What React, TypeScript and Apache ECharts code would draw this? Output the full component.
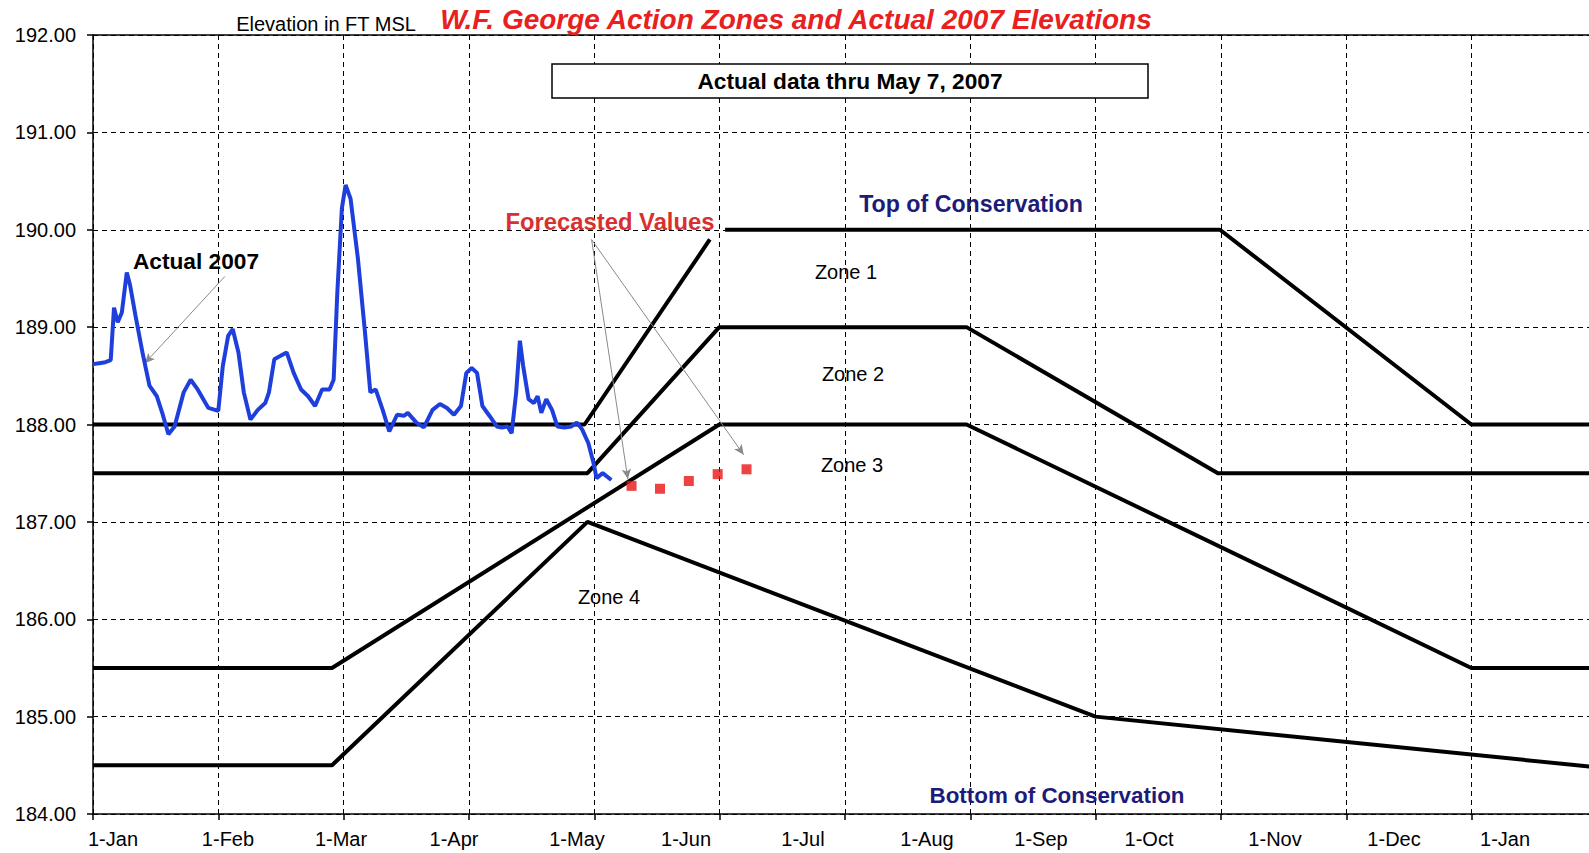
import React, { useEffect, useRef } from 'react';
import * as echarts from 'echarts';

// X values are day-of-year (0 = 1-Jan)
const monthLabels = ['1-Jan', '1-Feb', '1-Mar', '1-Apr', '1-May', '1-Jun', '1-Jul', '1-Aug', '1-Sep', '1-Oct', '1-Nov', '1-Dec', '1-Jan'];
const labelDays = [4.85, 32.76, 60.19, 87.61, 117.46, 143.92, 172.31, 202.4, 230.07, 256.28, 286.86, 315.74, 342.68];

// Zone boundary lines
const topDays = [0, 119.3, 149.7, 151.5, 153.4, 273.5, 334.5, 365];
const topVals = [188, 188, 189.9, null, 190, 190, 188, 188];
const zone12Days = [0, 120, 152, 212, 273, 365];
const zone12Vals = [187.5, 187.5, 189, 189, 187.5, 187.5];
const zone23Days = [0, 58, 152, 212, 334.5, 365];
const zone23Vals = [185.5, 185.5, 188, 188, 185.5, 185.5];
const zone34Days = [0, 58, 120, 243.3, 365];
const zone34Vals = [184.5, 184.5, 187, 185, 184.48];

// Actual 2007 elevations
const actualDays = [0, 1.5, 3, 4.3, 5.1, 6, 7, 8.2, 9, 10.3, 12, 13.7, 15.5, 16.8, 18.3, 19.8, 22, 23.7, 25.4, 28, 30.4, 31.5, 32.8, 33.9, 35.3, 36.6, 38.2, 40, 41.8, 42.7, 44, 45.3, 47, 48.7, 50.5, 52.2, 53.9, 55.6, 57.4, 58.4, 59.3, 60.4, 61.3, 62.5, 64.3, 66, 67.3, 68.6, 70.3, 71.9, 73.8, 75.5, 76.4, 78.5, 80.3, 82.4, 84.2, 85.9, 87.6, 89.3, 90.6, 91.9, 93.2, 94.5, 96.2, 98, 99.2, 100.6, 101.6, 102.7, 103.6, 104.4, 105.7, 107, 107.9, 108.8, 110, 111.4, 112.7, 114.4, 116.1, 117.4, 118.7, 120.2, 121.5, 122.2, 123.7, 125.8];
const actualVals = [188.62, 188.63, 188.64, 188.66, 189.2, 189.05, 189.15, 189.56, 189.43, 189.12, 188.74, 188.4, 188.29, 188.12, 187.9, 187.98, 188.33, 188.46, 188.36, 188.17, 188.14, 188.6, 188.91, 188.98, 188.74, 188.33, 188.05, 188.15, 188.22, 188.33, 188.67, 188.7, 188.74, 188.53, 188.36, 188.29, 188.19, 188.36, 188.36, 188.46, 189.36, 190.22, 190.46, 190.32, 189.7, 188.95, 188.33, 188.36, 188.15, 187.93, 188.1, 188.09, 188.12, 188.02, 187.97, 188.15, 188.21, 188.17, 188.1, 188.19, 188.53, 188.58, 188.53, 188.19, 188.09, 187.98, 187.97, 187.98, 187.91, 188.33, 188.86, 188.6, 188.26, 188.22, 188.29, 188.12, 188.26, 188.15, 187.98, 187.97, 187.98, 188.02, 187.95, 187.81, 187.6, 187.45, 187.5, 187.43];

// Forecasted values
const forecastDays = [130.7, 137.6, 144.6, 151.6, 158.6];
const forecastVals = [187.37, 187.34, 187.42, 187.49, 187.54];

const zip = (xs: number[], ys: (number | null)[]) => xs.map((x, i) => [x, ys[i] === null ? '-' : ys[i]]);

const FONT = '"Liberation Sans", Arial, sans-serif';
const NARROW = '"Liberation Sans Narrow", "Liberation Sans", sans-serif';
const NAVY = '#1c1c78';

export default function App() {
  const ref = useRef<HTMLDivElement>(null);
  useEffect(() => {
    if (!ref.current) return;
    const chart = echarts.init(ref.current, undefined, { renderer: 'svg' });
    const zoneLine = (name: string, data: any[]) => ({
      name,
      type: 'line',
      data,
      showSymbol: false,
      symbol: 'none',
      connectNulls: false,
      lineStyle: { color: '#000', width: 4 },
      z: 3,
      silent: true,
    });
    const txt = (text: string, x: number, y: number, size: number, color: string, weight = 'normal', family = FONT, style = 'normal') => ({
      type: 'text',
      x,
      y,
      z: 100,
      style: {
        text,
        fill: color,
        fontSize: size,
        fontWeight: weight,
        fontFamily: family,
        fontStyle: style,
        textAlign: 'center',
        textVerticalAlign: 'middle',
      },
    });
    chart.setOption({
      animation: false,
      backgroundColor: '#fff',
      grid: { left: 93, top: 35, right: 0, bottom: 39, show: false },
      xAxis: [
        {
          type: 'value',
          min: 0,
          max: 365,
          interval: 365 / 12,
          axisLine: { show: true, lineStyle: { color: '#000', width: 1.5 } },
          axisTick: { show: true, length: 6, lineStyle: { color: '#000', width: 1.5 } },
          axisLabel: { show: false },
          splitLine: { show: true, lineStyle: { color: '#000', width: 1, type: [5, 4] } },
        },
        {
          type: 'value',
          min: 0,
          max: 365,
          position: 'bottom',
          axisLine: { show: false },
          axisTick: { show: false },
          splitLine: { show: false },
          axisLabel: {
            show: true,
            customValues: labelDays,
            margin: 15,
            fontSize: 20,
            fontFamily: FONT,
            color: '#000',
            hideOverlap: false,
            formatter: (v: number) => {
              let best = 0;
              for (let i = 0; i < labelDays.length; i++) if (Math.abs(labelDays[i] - v) < Math.abs(labelDays[best] - v)) best = i;
              return monthLabels[best];
            },
          },
        },
        {
          type: 'value',
          min: 0,
          max: 365,
          position: 'top',
          axisLine: { show: true, onZero: false, lineStyle: { color: '#000', width: 1.5 } },
          axisTick: { show: false },
          axisLabel: { show: false },
          splitLine: { show: false },
        },
      ],
      yAxis: {
        type: 'value',
        min: 184,
        max: 192,
        interval: 1,
        axisLine: { show: true, lineStyle: { color: '#000', width: 1.5 } },
        axisTick: { show: true, length: 6, lineStyle: { color: '#000', width: 1.5 } },
        axisLabel: { margin: 17, fontSize: 20, fontFamily: FONT, color: '#000', formatter: (v: number) => v.toFixed(2) },
        splitLine: { show: true, lineStyle: { color: '#000', width: 1, type: [5, 4] } },
      },
      series: [
        zoneLine('Top of Conservation', zip(topDays, topVals)),
        zoneLine('Zone 1/2', zip(zone12Days, zone12Vals)),
        zoneLine('Zone 2/3', zip(zone23Days, zone23Vals)),
        zoneLine('Zone 3/4', zip(zone34Days, zone34Vals)),
        {
          name: 'Actual 2007',
          type: 'line',
          data: zip(actualDays, actualVals),
          showSymbol: false,
          symbol: 'none',
          lineStyle: { color: '#1f3fdd', width: 4 },
          z: 5,
          silent: true,
          markLine: {
            silent: true,
            symbol: ['none', 'arrow'],
            symbolSize: [7, 10],
            label: { show: false },
            lineStyle: { color: '#8a8a8a', width: 1, type: 'solid' },
            data: [
              [{ coord: [32.0, 189.52] }, { coord: [12.6, 188.63] }],
            ],
          },
        },
        {
          name: 'Forecasted Values',
          type: 'scatter',
          data: zip(forecastDays, forecastVals),
          symbol: 'rect',
          symbolSize: 10,
          itemStyle: { color: '#e81414' },
          z: 6,
          silent: true,
          markLine: {
            silent: true,
            symbol: ['none', 'arrow'],
            symbolSize: [7, 10],
            label: { show: false },
            lineStyle: { color: '#8a8a8a', width: 1, type: 'solid' },
            data: [
              [{ coord: [121.0, 189.9] }, { coord: [129.8, 187.44] }],
              [{ coord: [121.0, 189.9] }, { coord: [157.9, 187.69] }],
            ],
          },
        },
      ],
      graphic: [
        {
          type: 'rect',
          z: 90,
          shape: { x: 552, y: 64, width: 596, height: 34 },
          style: { fill: '#fff', stroke: '#000', lineWidth: 1.5 },
        },
        txt('Actual data thru May 7, 2007', 850, 81, 22.7, '#000', 'bold'),
        txt('W.F. George Action Zones and Actual 2007 Elevations', 796, 19, 28, '#e82020', 'bold', NARROW, 'italic'),
        txt('Elevation in FT MSL', 326, 24, 20, '#000'),
        txt('Top of Conservation', 971, 204, 23.2, NAVY, 'bold'),
        txt('Bottom of Conservation', 1057, 795, 22.4, NAVY, 'bold'),
        txt('Zone 1', 846, 272, 20, '#000'),
        txt('Zone 2', 853, 374, 20, '#000'),
        txt('Zone 3', 852, 465, 20, '#000'),
        txt('Zone 4', 609, 597, 20, '#000'),
        txt('Actual 2007', 196, 261, 22.7, '#000', 'bold'),
        txt('Forecasted Values', 610, 221, 23.8, '#d83030', 'bold'),
      ],
    });
    return () => chart.dispose();
  }, []);
  return (
    <div style={{ position: 'fixed', left: 0, top: 0, width: 1589, height: 853, overflow: 'hidden', background: '#fff' }}>
      <div ref={ref} style={{ position: 'absolute', left: 0, top: 0, width: 1597, height: 853 }} />
    </div>
  );
}
